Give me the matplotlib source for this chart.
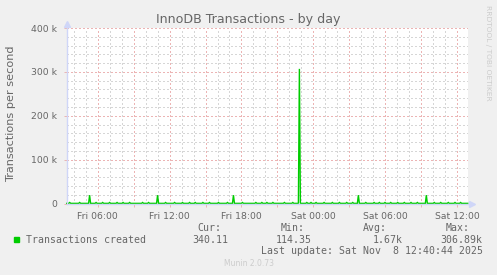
import matplotlib
matplotlib.use("Agg")
import matplotlib.pyplot as plt
from matplotlib.ticker import MultipleLocator

# ---------------- data (hours since Fri 00:00, transactions/s) ----------------
baseline = 340.0
spike_hours = [5.33, 11.0, 17.33, 22.83, 27.75, 33.42]
spike_values = [19000, 19000, 19000, 306890, 19000, 19000]
blip_hours = [3.67, 4.5, 5.87, 6.42, 7.0, 7.62, 8.12, 8.67, 9.75, 10.25,
              11.67, 12.42, 13.08, 13.67, 14.14, 14.78, 15.33, 16.08, 16.83,
              18.08, 19.2, 19.7, 20.12, 20.62, 21.58, 22.28, 23.45, 23.8,
              24.22, 24.89, 25.58, 26.17, 26.78, 27.28, 28.37, 29.06, 29.5,
              29.97, 30.45, 31.03, 31.58, 32.14, 32.67, 34.08, 34.62, 35.25,
              35.81, 36.28]
blip_values = [2300] * len(blip_hours)
t_start, t_end = 3.42, 36.87

tick_hours = [6, 12, 18, 24, 30, 36]
tick_labels = ["Fri 06:00", "Fri 12:00", "Fri 18:00", "Sat 00:00", "Sat 06:00", "Sat 12:00"]
y_ticks = [0, 100000, 200000, 300000, 400000]
y_tick_labels = ["0", "100 k", "200 k", "300 k", "400 k"]

legend_name = "Transactions created"
stat_names = ["Cur:", "Min:", "Avg:", "Max:"]
stat_values = ["340.11", "114.35", "1.67k", "306.89k"]
last_update = "Last update: Sat Nov  8 12:40:44 2025"

# build the series from the events
events = sorted(list(zip(spike_hours, spike_values)) + list(zip(blip_hours, blip_values)))
xs, ys = [t_start], [baseline]
step = 1.0 / 12.0
for h, v in events:
    xs += [h - step, h, h + step]
    ys += [baseline, v, baseline]
xs.append(t_end)
ys.append(baseline)

# ---------------- figure ----------------
W, H = 497, 275
BG = "#f0f0f0"
FONT = "#666666"
AXIS = "#cfd6f8"
fig = plt.figure(figsize=(W / 100, H / 100), dpi=100, facecolor=BG)
ax_l, ax_r, ax_t, ax_b = 66.7, 467.7, 28.0, 203.5
ax = fig.add_axes([ax_l / W, 1 - ax_b / H, (ax_r - ax_l) / W, (ax_b - ax_t) / H])
ax.set_facecolor("white")

ax.set_xlim(t_start, t_end)
ax.set_ylim(0, 400000)

# grids
ax.xaxis.set_minor_locator(MultipleLocator(1))
ax.yaxis.set_minor_locator(MultipleLocator(20000))
major_x = [h for h in range(3, 37, 3) if h >= t_start]
ax.set_xticks(major_x)
ax.set_xticklabels([tick_labels[tick_hours.index(h)] if h in tick_hours else "" for h in major_x])
ax.set_yticks(y_ticks)
ax.set_yticklabels(y_tick_labels)
ax.grid(which="minor", color="#d6d6d6", linestyle=(0, (1.2, 2.4)), linewidth=0.72,
        antialiased=False)
ax.grid(which="major", color="#ecb4b4", linestyle=(0, (1.2, 2.4)), linewidth=0.72,
        antialiased=False)
ax.set_axisbelow(True)

ax.tick_params(which="major", length=2, width=0.6, color="#e8aaaa",
               labelsize=6.7, labelcolor=FONT)
ax.tick_params(axis="x", which="major", pad=4)
ax.tick_params(axis="y", which="major", pad=5)
ax.tick_params(which="minor", length=0)

for s in ["top", "right"]:
    ax.spines[s].set_visible(False)
for s in ["left", "bottom"]:
    ax.spines[s].set_color(AXIS)
    ax.spines[s].set_linewidth(1.0)

# axis arrows
ax.plot([0], [1.0 + 4 / (ax_b - ax_t)], marker="^", color=AXIS, markersize=4.5,
        transform=ax.transAxes, clip_on=False)
ax.plot([1.0 + 4 / (ax_r - ax_l)], [0], marker=">", color=AXIS, markersize=4.5,
        transform=ax.transAxes, clip_on=False)

ax.plot(xs, ys, color="#00cc00", linewidth=1.0, solid_joinstyle="miter", clip_on=False)

# titles / labels
def ftxt(x, y, s, **kw):
    fig.text(x / W, 1 - y / H, s, **kw)

ftxt(248.2, 20, "InnoDB Transactions - by day", ha="center", va="center",
     fontsize=9.1, color=FONT)
ftxt(11, 114, "Transactions per second", ha="center", va="center",
     rotation=90, fontsize=8.1, color=FONT)
ftxt(487.7, 53, "RRDTOOL / TOBI OETIKER", ha="center", va="center",
     rotation=270, fontsize=5.4, color="#cccccc")
ftxt(249, 264, "Munin 2.0.73", ha="center", va="center", fontsize=5.5, color="#cccccc")

# legend
mono = dict(family="DejaVu Sans Mono", fontsize=7.1, color=FONT, va="center")
fig.patches.append(plt.Rectangle((14 / W, 1 - 242 / H), 5.3 / W, 5.3 / H,
                                 transform=fig.transFigure, color="#00cc00"))
ftxt(26, 239.7, legend_name, ha="left", **mono)
label_right = [221.7, 305.0, 386.7, 470.0]
value_right = [228.7, 311.7, 402.7, 482.7]
for name, val, lr, vr in zip(stat_names, stat_values, label_right, value_right):
    ftxt(lr, 227.7, name, ha="right", **mono)
    ftxt(vr, 239.7, val, ha="right", **mono)
ftxt(482.7, 251, last_update, ha="right", **mono)

fig.savefig("out.png", dpi=100, facecolor=BG)
